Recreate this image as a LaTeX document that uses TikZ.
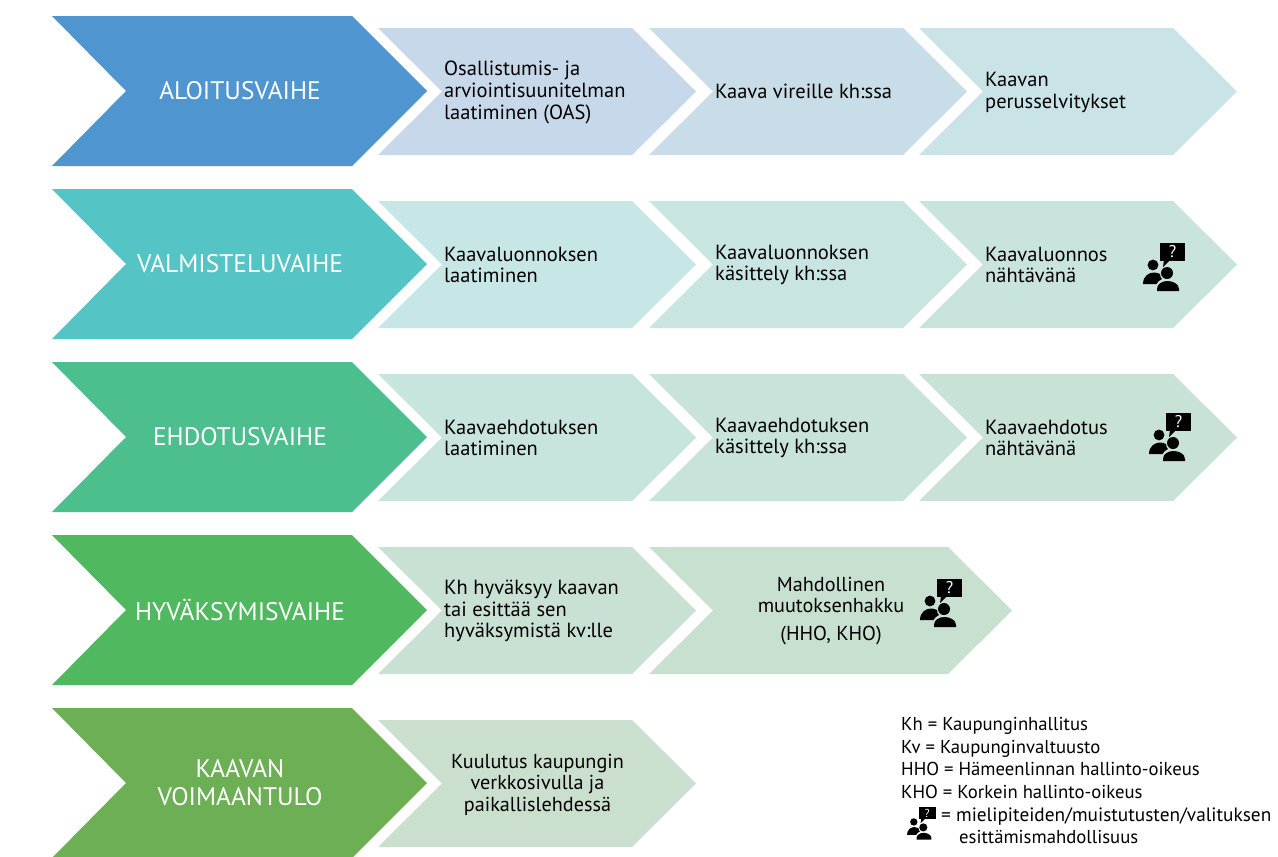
\documentclass[tikz,border=0pt]{standalone}
\usepackage{fontspec}
\setmainfont{PT Sans}
\definecolor{c1}{HTML}{4F95CF}
\definecolor{c2}{HTML}{54C5C4}
\definecolor{c3}{HTML}{4DBE8E}
\definecolor{c4}{HTML}{50B95F}
\definecolor{c5}{HTML}{6CAF55}
\definecolor{s11}{HTML}{C7D8EA}
\definecolor{s12}{HTML}{C8DDE7}
\definecolor{s13}{HTML}{C9E3E7}
\definecolor{s21}{HTML}{C7E6E6}
\definecolor{s22}{HTML}{C8E5E2}
\definecolor{s23}{HTML}{C8E4DC}
\definecolor{s31}{HTML}{C8E4DE}
\definecolor{s32}{HTML}{C8E3DA}
\definecolor{s33}{HTML}{C8E2D5}
\definecolor{s41}{HTML}{C8E1D2}
\definecolor{s42}{HTML}{C8E0D0}
\definecolor{s51}{HTML}{CADFCE}
\tikzset{
  x=1pt,y=-1pt,
  big/.pic={\fill[pic actions] (0,0) -- (300,0) -- (375,75) -- (300,150) -- (0,150) -- (74,75) -- cycle;},
  small/.pic={\fill[pic actions] (0,0) -- (254,0) -- (318,63.5) -- (254,127) -- (0,127) -- (64,63.5) -- cycle;},
  wide/.pic={\fill[pic actions] (0,0) -- (299,0) -- (363,63.5) -- (299,127) -- (0,127) -- (64,63.5) -- cycle;},
  bigtext/.style={text=white,font=\fontsize{25.4}{28}\selectfont,align=center},
  smalltext/.style={text=black,font=\fontsize{20.5}{21.6}\selectfont,align=left,anchor=west,inner sep=0pt},
  centertext/.style={text=black,font=\fontsize{20.2}{21.6}\selectfont,align=center,inner sep=0pt},
  legendtext/.style={text=black,font=\fontsize{18.7}{22.7}\selectfont,align=left,anchor=north west,inner sep=0pt},
  icon/.pic={
    \fill[black] (17,0) rectangle (42,18);
    \fill[black] (21,17) -- (27,17) -- (20,24) -- cycle;
    \node[transform shape,text=white,font=\fontsize{17}{17}\selectfont,inner sep=0pt] at (29.5,9) {?};
    \fill[black] (10,22) circle (5.4);
    \fill[black] (24,30) circle (6);
    \fill[black] (0,41) .. controls (0,33) and (6,29.5) .. (11,29.5) .. controls (13,29.5) and (15,30) .. (17,31) .. controls (17,34) and (18,35) .. (19,36) .. controls (17,37) and (14,39) .. (13.5,41) -- cycle;
    \fill[black] (14,48) -- (14,46) .. controls (14,41) and (19,38) .. (24.5,38) .. controls (30,38) and (36,41) .. (36,46) -- (36,48) -- cycle;
  }
}
\begin{document}
\begin{tikzpicture}
\useasboundingbox (0,0) rectangle (1278,857);
\fill[white] (0,0) rectangle (1278,857);
\pic[c1] at (52,16) {big};
\pic[c2] at (52,189) {big};
\pic[c3] at (52,362) {big};
\pic[c4] at (52,535) {big};
\pic[c5] at (52,708) {big};
\pic[s11] at (378,28) {small};
\pic[s12] at (649,28) {small};
\pic[s13] at (919,28) {small};
\pic[s21] at (378,201) {small};
\pic[s22] at (649,201) {small};
\pic[s23] at (919,201) {small};
\pic[s31] at (378,374) {small};
\pic[s32] at (649,374) {small};
\pic[s33] at (919,374) {small};
\pic[s41] at (378,547) {small};
\pic[s42] at (649,547) {wide};
\pic[s51] at (378,720) {small};
\node[bigtext] (b1) at (240,91) {ALOITUSVAIHE};
\node[bigtext] (b2) at (240,264) {VALMISTELUVAIHE};
\node[bigtext] (b3) at (240,437) {EHDOTUSVAIHE};
\node[bigtext] (b4) at (240,610) {HYVÄKSYMISVAIHE};
\node[bigtext] (b5) at (240,783) {KAAVAN\\VOIMAANTULO};
\node[smalltext] (t11) at (444,92.5) {Osallistumis- ja\\arviointisuunitelman\\laatiminen (OAS)};
\node[smalltext] (t12) at (715,91.5) {Kaava vireille kh:ssa};
\node[smalltext] (t13) at (985,92.5) {Kaavan\\perusselvitykset};
\node[smalltext] (t21) at (444,265) {Kaavaluonnoksen\\laatiminen};
\node[smalltext] (t22) at (715,265) {Kaavaluonnoksen\\käsittely kh:ssa};
\node[smalltext] (t23) at (985,265) {Kaavaluonnos\\nähtävänä};
\node[smalltext] (t31) at (444,438) {Kaavaehdotuksen\\laatiminen};
\node[smalltext] (t32) at (715,438) {Kaavaehdotuksen\\käsittely kh:ssa};
\node[smalltext] (t33) at (985,438) {Kaavaehdotus\\nähtävänä};
\node[smalltext] (t41) at (444,611) {Kh hyväksyy kaavan\\tai esittää sen\\hyväksymistä kv:lle};
\node[centertext] (t42) at (831,611) {Mahdollinen\\muutoksenhakku\\[6pt](HHO, KHO)};
\node[centertext] (t51) at (537.5,784.5) {Kuulutus kaupungin\\verkkosivulla ja\\paikallislehdessä};
\pic at (1143,243) {icon};
\pic at (1149,413) {icon};
\pic at (920,579) {icon};
\pic[scale=0.68] at (907,807) {icon};
\node[legendtext] (leg) at (901,717) {Kh = Kaupunginhallitus\\Kv = Kaupunginvaltuusto\\HHO = Hämeenlinnan hallinto-oikeus\\KHO = Korkein hallinto-oikeus\\\hspace*{40pt}{\fontsize{19.3}{22.7}\selectfont = mielipiteiden/muistutusten/valituksen}\\\hspace*{58pt}esittämismahdollisuus};
\end{tikzpicture}
\end{document}
